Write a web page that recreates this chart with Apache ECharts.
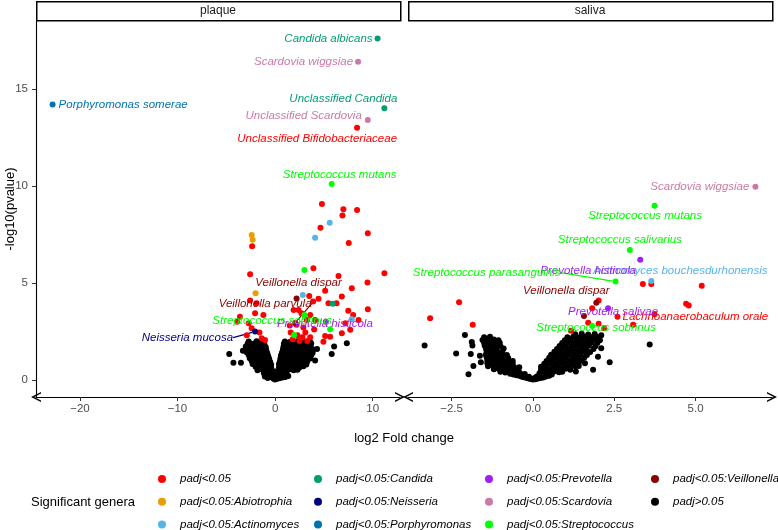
<!DOCTYPE html>
<html><head><meta charset="utf-8">
<script src="https://cdn.jsdelivr.net/npm/echarts@6/dist/echarts.min.js"></script>
<style>html,body{margin:0;padding:0;background:#fff}#c{width:778px;height:530px}</style>
</head><body><div id="c"></div>
<script>
// ---------- DATA ----------
const categories = ['padj<0.05','padj<0.05:Abiotrophia','padj<0.05:Actinomyces','padj<0.05:Candida','padj<0.05:Neisseria','padj<0.05:Porphyromonas','padj<0.05:Prevotella','padj<0.05:Scardovia','padj<0.05:Streptococcus','padj<0.05:Veillonella','padj>0.05'];
const panels = ['plaque','saliva'];
const plaqueTicks = [-20,-10,0,10];
const salivaTicks = [-2.5,0,2.5,5];
const yTicks = [0,5,10,15];
const xTitle = 'log2 Fold change';
const yTitle = '-log10(pvalue)';
const legendTitle = 'Significant genera';

// padj>0.05 points [log2FC, -log10 p]
const plaqueNotSig = [
[0,0.02],[0.15,0.05],[-0.15,0.06],[0.3,0.1],[-0.3,0.12],[0.45,0.08],[-0.45,0.15],[0.6,0.18],[-0.6,0.22],[0.75,0.12],[-0.75,0.1],[0.9,0.25],[-0.9,0.3],[1.05,0.15],[-1.05,0.18],[1.2,0.3],[-1.15,0.35],[0.2,0.3],[-0.2,0.35],[0.5,0.35],[-0.5,0.42],[0.05,0.2],[1.35,0.2],
[-1.8,0.5],[-1.4,0.55],[-1.0,0.5],[-0.6,0.52],[-0.3,0.48],
[-2.0,0.68],[-1.6,0.65],[-1.2,0.7],[-0.8,0.66],[-0.4,0.62],
[-2.3,0.82],[-1.9,0.85],[-1.5,0.8],[-1.1,0.84],[-0.7,0.8],[-0.4,0.78],
[-2.4,0.98],[-2.0,0.95],[-1.6,1.0],[-1.2,0.95],[-0.8,0.98],[-0.5,0.93],
[-2.6,1.12],[-2.2,1.1],[-1.8,1.15],[-1.4,1.1],[-1.0,1.12],[-0.6,1.08],
[-2.7,1.28],[-2.3,1.25],[-1.9,1.3],[-1.5,1.25],[-1.1,1.27],[-0.7,1.22],
[-2.9,1.42],[-2.5,1.4],[-2.1,1.45],[-1.7,1.4],[-1.3,1.42],[-0.8,1.38],
[-3.0,1.58],[-2.6,1.55],[-2.2,1.6],[-1.8,1.55],[-1.4,1.57],[-0.9,1.52],
[-3.0,1.72],[-2.6,1.7],[-2.2,1.75],[-1.8,1.7],[-1.3,1.72],[-0.95,1.68],
[-2.8,1.88],[-2.4,1.85],[-2.0,1.9],[-1.5,1.86],[-1.1,1.84],
[-2.7,1.98],[-1.9,1.99],[-1.4,1.97],
[0.3,0.5],[0.7,0.52],[1.1,0.48],[1.5,0.55],[1.9,0.5],[2.3,0.52],
[0.4,0.65],[0.8,0.68],[1.2,0.62],[1.6,0.7],[2.0,0.66],[2.5,0.64],[2.9,0.7],
[0.4,0.82],[0.8,0.78],[1.2,0.84],[1.6,0.8],[2.0,0.83],[2.4,0.78],[2.8,0.85],[3.2,0.8],
[0.5,0.96],[0.9,0.93],[1.3,0.98],[1.7,0.95],[2.1,0.97],[2.5,0.92],[2.9,0.98],[3.3,0.95],
[0.55,1.1],[0.95,1.13],[1.35,1.08],[1.75,1.12],[2.15,1.1],[2.55,1.14],[2.95,1.08],[3.35,1.12],[3.6,1.1],
[0.6,1.26],[1.0,1.23],[1.4,1.28],[1.8,1.25],[2.2,1.27],[2.6,1.22],[3.0,1.28],[3.4,1.25],[3.7,1.27],
[0.7,1.4],[1.1,1.42],[1.5,1.38],[1.9,1.43],[2.3,1.4],[2.7,1.42],[3.1,1.38],[3.5,1.41],[3.85,1.4],
[0.8,1.56],[1.2,1.54],[1.6,1.58],[2.0,1.55],[2.4,1.57],[2.8,1.53],[3.2,1.58],[3.6,1.55],[3.9,1.57],
[0.85,1.7],[1.25,1.72],[1.65,1.68],[2.05,1.73],[2.45,1.7],[2.85,1.72],[3.25,1.69],[3.65,1.72],
[0.9,1.86],[1.3,1.84],[1.7,1.88],[2.1,1.85],[2.5,1.87],[2.9,1.83],[3.3,1.86],[3.7,1.88],
[1.0,1.98],[1.5,1.96],[2.3,1.99],[3.0,1.97],[3.6,1.96],
[7.35,1.89],[6.05,1.72],[5.8,1.34],[4.1,1.0],[-4.7,1.34],[-4.27,0.89],[-3.5,0.89],[4.3,1.6],[-3.3,1.5]
];
const salivaNotSig = [
[0,0.02],[0.08,0.04],[-0.08,0.05],[0.16,0.07],[-0.16,0.08],[0.24,0.1],[-0.24,0.12],[0.32,0.13],[-0.32,0.15],[0.4,0.18],[-0.4,0.2],[0.5,0.22],[-0.5,0.24],[-0.6,0.28],[0.58,0.28],[-0.7,0.32],[-0.12,0.16],[0.12,0.18],[0.05,0.1],
[-1.0,0.42],[-0.85,0.38],[-0.7,0.44],[-0.55,0.4],[-0.4,0.36],[-0.25,0.3],[0.2,0.35],[0.35,0.4],[0.5,0.38],[0.65,0.44],[0.8,0.4],[0.9,0.42],
[-1.2,0.55],[-1.05,0.58],[-0.9,0.54],[-0.75,0.57],[-0.6,0.52],[-0.45,0.5],[0.25,0.52],[0.4,0.56],[0.55,0.54],[0.7,0.58],[0.85,0.55],[1.0,0.57],[1.15,0.53],
[-1.38,0.7],[-1.22,0.72],[-1.06,0.68],[-0.9,0.73],[-0.74,0.7],[-0.58,0.67],[-0.42,0.65],[0.25,0.68],[0.42,0.72],[0.6,0.7],[0.78,0.73],[0.96,0.69],[1.14,0.72],[1.3,0.7],
[-1.4,0.86],[-1.25,0.88],[-1.1,0.84],[-0.95,0.87],[-0.8,0.85],[-0.62,0.82],[0.35,0.84],[0.52,0.87],[0.7,0.85],[0.88,0.88],[1.05,0.84],[1.22,0.87],[1.4,0.85],
[-1.4,1.0],[-1.25,1.03],[-1.1,0.99],[-0.95,1.02],[-0.78,1.0],[-0.62,0.97],[0.42,0.98],[0.6,1.02],[0.78,1.0],[0.96,1.03],[1.14,0.99],[1.32,1.02],[1.5,1.0],
[-1.42,1.16],[-1.26,1.14],[-1.1,1.18],[-0.94,1.15],[-0.76,1.13],[0.5,1.14],[0.68,1.17],[0.86,1.15],[1.04,1.18],[1.22,1.14],[1.4,1.17],[1.58,1.15],
[-1.45,1.3],[-1.3,1.32],[-1.14,1.28],[-0.98,1.31],[-0.8,1.29],[0.56,1.3],[0.74,1.33],[0.92,1.29],[1.1,1.32],[1.28,1.3],[1.46,1.33],[1.66,1.29],
[-1.42,1.46],[-1.26,1.44],[-1.1,1.48],[-0.94,1.45],[0.66,1.45],[0.84,1.48],[1.02,1.44],[1.2,1.47],[1.38,1.45],[1.56,1.48],[1.76,1.44],
[-1.44,1.6],[-1.28,1.63],[-1.12,1.59],[-0.9,1.62],[0.74,1.6],[0.92,1.63],[1.1,1.59],[1.28,1.62],[1.46,1.6],[1.64,1.63],[1.86,1.6],
[-1.48,1.76],[-1.32,1.74],[-1.16,1.78],[-1.0,1.75],[0.82,1.75],[1.0,1.78],[1.18,1.74],[1.36,1.77],[1.54,1.75],[1.72,1.78],[1.92,1.74],
[-1.5,1.9],[-1.34,1.93],[-1.18,1.89],[-1.02,1.92],[0.9,1.9],[1.08,1.93],[1.26,1.89],[1.44,1.92],[1.62,1.9],[1.8,1.93],[1.98,1.9],
[-1.55,2.06],[-1.38,2.04],[-1.2,2.08],[-1.06,2.05],[0.98,2.05],[1.16,2.08],[1.34,2.04],[1.52,2.07],[1.7,2.05],[1.88,2.08],[2.06,2.04],
[-1.5,2.2],[-1.32,2.22],[1.06,2.2],[1.24,2.23],[1.42,2.19],[1.6,2.22],[1.78,2.2],[1.96,2.23],
[1.3,2.35],[1.5,2.38],[1.7,2.34],[1.9,2.37],
[-3.33,1.77],[-2.09,2.32],[-2.36,1.36],[-1.88,1.96],[-1.86,1.77],[-1.91,1.34],[-1.83,0.72],[-1.98,0.29],[-1.6,0.91],[-1.63,1.24],[-1.52,2.06],[2.1,1.63],[2.36,0.91],[1.85,0.52],[1.32,0.43],[1.65,1.34],[1.6,0.86],[1.41,0.72],[3.59,1.82],[2.1,2.3],[2.0,1.2]
];

// padj<0.05 (no genus highlight) points
const plaqueSig = [
[4.8,9.07],[7.0,8.8],[8.4,8.76],[6.9,8.47],[4.65,7.84],[9.5,7.56],[7.55,7.06],[-2.35,6.89],
[3.93,5.75],[-2.56,5.45],[6.5,5.36],[9.47,5.02],[11.2,5.5],[7.86,4.72],[5.13,4.6],[3.5,4.33],[6.84,4.3],[4.45,4.19],[3.9,4.04],[-2.56,4.09],
[5.47,3.95],[6.3,3.95],[9.5,3.64],[7.5,3.56],[8.0,3.35],[-1.9,3.95],[-2.05,3.44],[1.9,3.6],[2.4,3.6],[2.7,3.44],[3.6,3.35],[-3.6,3.26],[-1.2,3.35],
[-3.9,3.0],[3.25,3.09],[4.1,3.09],[8.55,3.09],[7.2,2.92],[-2.7,2.92],[-2.4,2.66],[7.7,2.58],[6.84,2.4],[5.13,2.27],[5.64,2.23],[4.95,1.97],
[-1.37,2.15],[-1.03,2.06],[1.5,2.8],[2.2,2.85],[1.6,2.45],[2.3,2.3],[2.8,2.2],[3.1,2.45],[3.6,2.2],[2.9,2.7],[3.3,2.0],[-1.6,2.45],[-2.9,2.3],[2.5,2.0],[1.8,2.1],[4.0,2.6]
];
const salivaSig = [
[-3.16,3.18],[-2.27,4.0],[-1.85,2.85],[1.17,2.54],[1.7,2.95],[1.82,3.69],[2.02,4.09],[2.02,2.89],[2.19,2.66],[3.08,2.85],[3.38,4.95],[3.64,4.95],[3.74,3.39],[4.71,3.92],[4.79,3.83],[5.19,4.86]
];

// highlighted / labelled taxa: [category, log2FC, -log10 p, label]
const plaqueGenera = [
['padj<0.05:Candida',10.5,17.6,'Candida albicans'],
['padj<0.05:Scardovia',8.5,16.4,'Scardovia wiggsiae'],
['padj<0.05:Porphyromonas',-22.8,14.2,'Porphyromonas somerae'],
['padj<0.05:Candida',11.2,14.0,'Unclassified Candida'],
['padj<0.05:Scardovia',9.5,13.4,'Unclassified Scardovia'],
['padj<0.05',8.4,13.0,'Unclassified Bifidobacteriaceae'],
['padj<0.05:Streptococcus',5.8,10.1,'Streptococcus mutans'],
['padj<0.05:Actinomyces',5.6,8.1,''],
['padj<0.05:Actinomyces',4.1,7.33,''],
['padj<0.05:Abiotrophia',-2.4,7.47,''],
['padj<0.05:Abiotrophia',-2.3,7.23,''],
['padj<0.05:Streptococcus',3.0,5.67,''],
['padj<0.05:Abiotrophia',-2.0,4.47,''],
['padj<0.05:Actinomyces',2.84,4.38,''],
['padj<0.05:Veillonella',2.2,4.2,'Veillonella dispar'],
['padj<0.05:Candida',5.9,3.92,''],
['padj<0.05:Streptococcus',3.0,3.35,''],
['padj<0.05:Actinomyces',7.86,3.13,''],
['padj<0.05:Prevotella',5.2,3.0,'Prevotella histicola'],
['padj<0.05:Veillonella',2.05,2.94,'Veillonella parvula'],
['padj<0.05:Streptococcus',5.64,2.61,''],
['padj<0.05:Neisseria',-2.05,2.49,'Neisseria mucosa'],
['padj<0.05:Streptococcus',1.95,2.32,'Streptococcus sobrinus']
];
const salivaGenera = [
['padj<0.05:Scardovia',6.84,9.96,'Scardovia wiggsiae'],
['padj<0.05:Streptococcus',3.74,8.98,'Streptococcus mutans'],
['padj<0.05:Streptococcus',2.98,6.7,'Streptococcus salivarius'],
['padj<0.05:Prevotella',3.3,6.19,'Prevotella histicola'],
['padj<0.05:Actinomyces',3.64,5.1,'Actinomyces bouchesdurhonensis'],
['padj<0.05:Streptococcus',2.54,5.07,'Streptococcus parasanguinis'],
['padj<0.05:Veillonella',1.95,3.98,'Veillonella dispar'],
['padj<0.05:Veillonella',1.57,3.3,''],
['padj<0.05:Prevotella',2.31,3.69,'Prevotella salivae'],
['padj<0.05',2.6,3.26,'Lachnoanaerobaculum orale'],
['padj<0.05:Streptococcus',1.82,2.78,'Streptococcus sobrinus']
];

// ---------- STYLE ----------
const catColors = {
 'padj<0.05':'#FF0000','padj<0.05:Abiotrophia':'#E69F00','padj<0.05:Actinomyces':'#56B4E9',
 'padj<0.05:Candida':'#009E73','padj<0.05:Neisseria':'#000080','padj<0.05:Porphyromonas':'#0072B2',
 'padj<0.05:Prevotella':'#A020F0','padj<0.05:Scardovia':'#CC79A7','padj<0.05:Streptococcus':'#00FF00',
 'padj<0.05:Veillonella':'#8B0000','padj>0.05':'#000000'
};
const labelPlace = {
 'plaque|Candida albicans':{align:'right',off:[-5,0]},
 'plaque|Scardovia wiggsiae':{align:'right',off:[-5,0]},
 'plaque|Porphyromonas somerae':{align:'left',off:[6,0]},
 'plaque|Unclassified Candida':{align:'right',off:[13,-10]},
 'plaque|Unclassified Scardovia':{align:'right',off:[-6,-4]},
 'plaque|Unclassified Bifidobacteriaceae':{align:'right',off:[40,11]},
 'plaque|Streptococcus mutans':{align:'center',off:[8,-9]},
 'plaque|Veillonella dispar':{align:'center',off:[2,-16]},
 'plaque|Veillonella parvula':{align:'center',off:[-30,-19],line:true},
 'plaque|Streptococcus sobrinus':{align:'center',off:[-22,-14]},
 'plaque|Prevotella histicola':{align:'center',off:[-1,2]},
 'plaque|Neisseria mucosa':{align:'right',off:[-22,6],line:true},
 'saliva|Scardovia wiggsiae':{align:'right',off:[-6,0]},
 'saliva|Streptococcus mutans':{align:'center',off:[-9.5,10]},
 'saliva|Streptococcus salivarius':{align:'center',off:[-10,-10]},
 'saliva|Prevotella histicola':{align:'center',off:[-52,11]},
 'saliva|Actinomyces bouchesdurhonensis':{align:'center',off:[29,-10]},
 'saliva|Streptococcus parasanguinis':{align:'right',off:[-55,-9],line:true},
 'saliva|Veillonella dispar':{align:'center',off:[-30,-12]},
 'saliva|Prevotella salivae':{align:'center',off:[5,3]},
 'saliva|Lachnoanaerobaculum orale':{align:'left',off:[5,0]},
 'saliva|Streptococcus sobrinus':{align:'center',off:[4,2]}
};
const FONT = 'Liberation Sans, Arial, Helvetica, sans-serif';
const GRID_TOP = 21, GRID_H = 376;
const grids = [{left:36, top:GRID_TOP, width:364, height:GRID_H},{left:408, top:GRID_TOP, width:364, height:GRID_H}];
const xRanges = [[-24.5,12.8],[-3.84,7.35]];
const yRange = [-0.88,18.5];

// ---------- BUILD ----------
const notSig = [plaqueNotSig, salivaNotSig];
const sig = [plaqueSig, salivaSig];
const genera = [plaqueGenera, salivaGenera];
const drawOrder = ['padj>0.05','padj<0.05'].concat(categories.filter(c=>c!=='padj>0.05'&&c!=='padj<0.05'));
const arrowPath = 'path://M0,10 L5,0 L10,10 L8.4,10 L5,3.3 L1.6,10 Z';

const series = [];
panels.forEach((p, pi) => {
  drawOrder.forEach(cat => {
    const data = [];
    if (cat === 'padj>0.05') notSig[pi].forEach(d => data.push({value:d}));
    if (cat === 'padj<0.05') sig[pi].forEach(d => data.push({value:d}));
    genera[pi].filter(g => g[0] === cat).forEach(g => {
      const item = {value:[g[1], g[2]], name:g[3]};
      if (g[3]) {
        const lp = labelPlace[p + '|' + g[3]] || {align:'center', off:[0,-10]};
        item.label = {show:true, position:'inside', formatter:g[3], align:lp.align, verticalAlign:'middle',
          offset:lp.off, color:catColors[cat], fontStyle:'italic', fontSize:11.5, fontFamily:FONT};
        if (lp.line) item.labelLine = {show:true, lineStyle:{color:catColors[cat], width:1.2}};
      }
      data.push(item);
    });
    series.push({
      name:cat, type:'scatter', xAxisIndex:pi, yAxisIndex:pi, symbol:'circle', symbolSize:6,
      itemStyle:{color:catColors[cat], opacity:1}, data:data, silent:true,
      label:{show:false}, emphasis:{disabled:true}
    });
  });
});

const xAxes = panels.map((p, pi) => ({
  type:'value', gridIndex:pi, min:xRanges[pi][0], max:xRanges[pi][1],
  splitLine:{show:false},
  axisLine:{show:true, onZero:false, symbol:[arrowPath, arrowPath], symbolSize:[12,10], lineStyle:{color:'#000', width:1.1}},
  axisTick:{show:true, length:4, lineStyle:{color:'#333'}, customValues: pi===0?plaqueTicks:salivaTicks},
  axisLabel:{show:true, margin:6, color:'#4D4D4D', fontSize:11.5, fontFamily:FONT,
    customValues: pi===0?plaqueTicks:salivaTicks,
    formatter: v => { const s = pi===0 ? String(Math.abs(v)) : Math.abs(v).toFixed(1); return (v<0?'\u2212':'') + s; }}
}));
const yAxes = panels.map((p, pi) => ({
  type:'value', gridIndex:pi, min:yRange[0], max:yRange[1],
  splitLine:{show:false},
  axisLine:{show:pi===0, onZero:false, lineStyle:{color:'#000', width:1.1}},
  axisTick:{show:pi===0, length:4, lineStyle:{color:'#333'}, customValues:yTicks},
  axisLabel:{show:pi===0, margin:8, color:'#4D4D4D', fontSize:11.5, fontFamily:FONT, customValues:yTicks},
  name: pi===0 ? yTitle : '', nameLocation:'middle', nameGap:19, nameRotate:90, nameMoveOverlap:false,
  nameTextStyle:{color:'#000', fontSize:13, fontFamily:FONT}
}));

const legendCols = [[0,1,2],[3,4,5],[6,7,8],[9,10]];
const legendLefts = [158,314,485,651];
const legendRowTops = [472,494.7,517.4];
const legends = [];
legendCols.forEach((col, ci) => col.forEach((idx, ri) => legends.push({
  data:[categories[idx]], orient:'horizontal', left:legendLefts[ci], top:legendRowTops[ri],
  itemWidth:8, itemHeight:8, icon:'circle', selectedMode:false, padding:0,
  textStyle:{fontStyle:'italic', fontSize:11.5, lineHeight:14, color:'#000', fontFamily:FONT, padding:[0,0,0,9]}
})));

const graphic = [];
panels.forEach((p, pi) => {
  const g = grids[pi];
  graphic.push({type:'rect', left:g.left, top:1, shape:{x:0,y:0,width:g.width,height:GRID_TOP-2},
    style:{fill:'#fff', stroke:'#000', lineWidth:1.5}, z:10});
  graphic.push({type:'text', x:g.left + g.width/2, y:11, style:{text:p, fill:'#1A1A1A', font:'12px ' + FONT, textAlign:'center', textVerticalAlign:'middle'}, z:11});
});
graphic.push({type:'text', x:404, y:438, style:{text:xTitle, fill:'#000', font:'13px ' + FONT, textAlign:'center', textVerticalAlign:'middle'}});
graphic.push({type:'text', x:31, y:502, style:{text:legendTitle, fill:'#000', font:'13px ' + FONT, textAlign:'left', textVerticalAlign:'middle'}});

const chart = echarts.init(document.getElementById('c'), null, {renderer:'canvas'});
chart.setOption({
  animation:false, backgroundColor:'#fff',
  grid:grids, xAxis:xAxes, yAxis:yAxes, series:series, legend:legends, graphic:graphic
});
</script></body></html>
